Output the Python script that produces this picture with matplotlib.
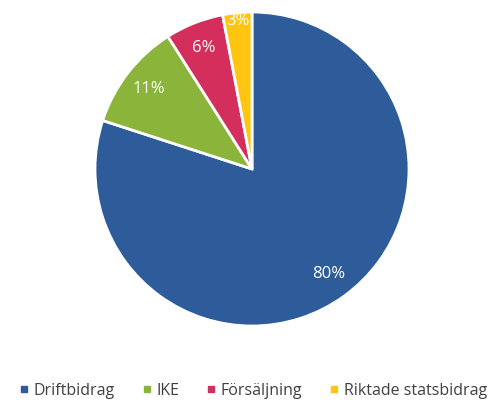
import matplotlib
matplotlib.use("Agg")
import matplotlib.pyplot as plt
from matplotlib.lines import Line2D
import numpy as np

categories = ["Driftbidrag", "IKE", "Försäljning", "Riktade statsbidrag"]
values = [80, 11, 6, 3]
colors = ["#2E5C9A", "#8BB43A", "#D42E5C", "#FFC511"]

plt.rcParams['font.family'] = ['Open Sans', 'DejaVu Sans']

fig = plt.figure(figsize=(5.03, 4.03), dpi=100)
ax = fig.add_axes([95/503, 1-326/403, 314/503, 314/403])
wedges, texts, autotexts = ax.pie(values, colors=colors, startangle=90, counterclock=False,
                                  autopct=lambda p: f"{p:.0f}%", pctdistance=0.83,
                                  wedgeprops=dict(edgecolor="white", linewidth=2),
                                  textprops=dict(color="white", fontsize=12))
# move the small slice label outward
x, y = autotexts[3].get_position()
r = np.hypot(x, y)
autotexts[3].set_position((x / r * 0.95, y / r * 0.95))
ax.set_xlim(-1, 1)
ax.set_ylim(-1, 1)
ax.set_aspect("equal")

handles = [Line2D([0], [0], marker="s", linestyle="none", markersize=5,
                  markerfacecolor=c, markeredgecolor=c) for c in colors]
fig.legend(handles, categories, loc="lower center", bbox_to_anchor=(0.5, -0.025), ncol=4,
           frameon=False, fontsize=11.5, handletextpad=0.1, columnspacing=1.5,
           handlelength=1.0, labelcolor="#404040")
fig.savefig("out.png", dpi=100)
